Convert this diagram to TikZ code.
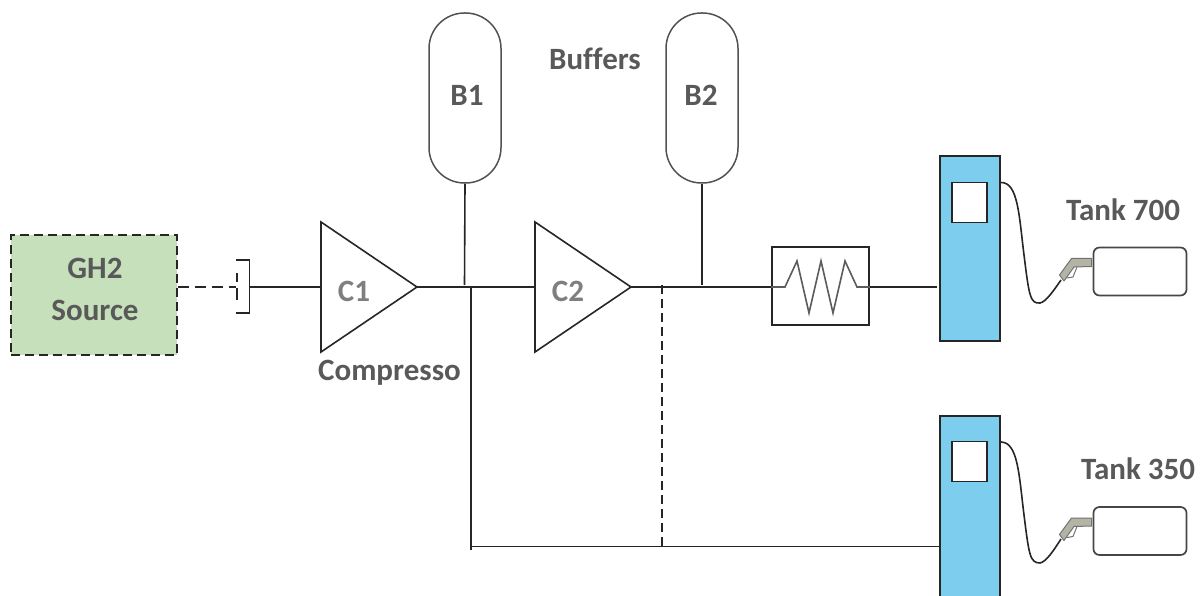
\documentclass[tikz,border=0pt]{standalone}
\usepackage{fontspec}
\setmainfont{Carlito}[Ligatures=NoCommon]
\definecolor{txt}{HTML}{595959}
\definecolor{txtl}{HTML}{7F7F7F}
\definecolor{ln}{HTML}{262626}
\definecolor{pumpc}{HTML}{7DCDEE}
\definecolor{srcc}{HTML}{C6E0BC}
\definecolor{nozc}{HTML}{B4B4A4}
\tikzset{
  lbl/.style={inner sep=0pt,font=\fontsize{31}{36}\selectfont\bfseries,text=txt},
  lbll/.style={lbl,text=txtl},
  pipe/.style={draw=ln,line width=1.6pt},
  dpipe/.style={pipe,dash pattern=on 11pt off 6pt},
  vdash/.style={pipe,dash pattern=on 9pt off 5pt},
  srcbox/.style={draw=ln,fill=srcc,line width=1.9pt,dash pattern=on 9pt off 5pt,minimum width=166pt,minimum height=120pt,inner sep=0pt},
  pumpbox/.style={draw=ln,fill=pumpc,line width=1.6pt,minimum width=60pt,inner sep=0pt},
  screen/.style={draw=ln,fill=white,line width=1.6pt,minimum width=35pt,minimum height=40pt,inner sep=0pt},
  tankbox/.style={draw=ln!85,fill=white,line width=1.7pt,rounded corners=6pt,minimum width=93pt,minimum height=48pt,inner sep=0pt},
  hxbox/.style={draw=ln,fill=white,line width=1.6pt,minimum width=97pt,minimum height=78pt,inner sep=0pt},
  buffer/.style={draw=ln!80,fill=white,line width=1.5pt,rounded corners=35.5pt,minimum width=72pt,minimum height=170pt,inner sep=0pt},
  comp/.style={draw=ln,fill=white,line width=1.6pt,line join=miter},
  hose/.style={draw=ln,line width=1.6pt},
  nozzle/.style={draw=ln!65,fill=nozc,line width=1pt,line join=round},
  guard/.style={draw=ln!65,line width=1pt}
}
\begin{document}
\begin{tikzpicture}[x=1pt,y=-1pt]
\useasboundingbox (0,0) rectangle (1203,596);
% coordinates
\coordinate (vl) at (236,287);
\coordinate (vr) at (249.5,287);
\coordinate (c1in) at (321,287);
\coordinate (c1out) at (417,287);
\coordinate (c2in) at (535,287);
\coordinate (c2out) at (631,287);
\coordinate (jb1) at (464.5,285);
\coordinate (jb2) at (702,285);
\coordinate (j1) at (471,287);
\coordinate (j2) at (662,285);
\coordinate (k1) at (471,546.5);
\coordinate (k2) at (662,546.5);
% nodes
\node[srcbox] (src) at (94,295) {};
\node[lbl] (gh2) at (95,268) {GH2};
\node[lbl] (srct) at (95,310) {Source};
\node[buffer] (b1) at (465,98) {};
\node[buffer] (b2) at (702,98) {};
\node[hxbox] (hx) at (820.5,286) {};
\node[pumpbox,minimum height=185pt] (p1) at (970,248.5) {};
\node[pumpbox,minimum height=200pt] (p2) at (970,516) {};
\node[screen] (s1) at (969.5,202.5) {};
\node[screen] (s2) at (969.5,461.5) {};
\node[tankbox] (t1) at (1140,271.5) {};
\node[tankbox] (t2) at (1140,531) {};
% source and valve
\draw[dpipe] (src.east|-vl) -- (vl);
\draw[pipe] (237,273) -- (237,282) (237,288) -- (237,300);
\draw[pipe,line join=miter] (236,260) -- (249.5,260) -- (249.5,313) -- (236,313);
\draw[pipe] (vr) -- (c1in);
% compressors
\draw[comp] (321,222) -- (c1out) -- (321,352) -- cycle;
\draw[comp] (535,222) -- (c2out) -- (535,352) -- cycle;
% pipes
\draw[pipe] (c1out) -- (c2in);
\draw[pipe] (c2out) -- (hx.west|-c2out);
\draw[pipe] (b1.south) -- (jb1);
\draw[pipe] (b2.south) -- (jb2);
\draw[pipe] (hx.east|-c2out) -- (937,287);
\draw[pipe] (j1) -- (471,550);
\draw[pipe] (k1) -- (p2.west|-k1);
\draw[vdash] (j2) -- (k2);
% heat exchanger coil
\draw[draw=ln!75,line width=1.6pt,line join=miter] (hx.west|-c2out) -- (785,287) -- (797,261) -- (809,313) -- (821,261) -- (833,313) -- (845,261) -- (857,287) -- (hx.east|-c2out);
% hoses
\draw[hose] (p1.east|-0,182.5) .. controls (1018,182) and (1019,215) .. (1024,255) .. controls (1029,295) and (1030,304) .. (1040,303) .. controls (1046,302) and (1054,290) .. (1061,280);
\draw[hose] (p2.east|-0,442) .. controls (1018,442) and (1019,475) .. (1024,515) .. controls (1029,555) and (1030,563) .. (1040,563) .. controls (1046,562) and (1054,550) .. (1061,539);
% nozzles
\draw[guard] (1077,267) -- (1073,277) -- (1067,278);
\draw[nozzle] (1059.5,275) -- (1071.5,258.5) -- (1091.5,258.5) -- (1091.5,266.5) -- (1074,267) -- (1064,281) -- cycle;
\draw[guard] (1077,526.5) -- (1073,536.5) -- (1067,537.5);
\draw[nozzle] (1059.5,534.5) -- (1071.5,518) -- (1091.5,518) -- (1091.5,526) -- (1074,526.5) -- (1064,540.5) -- cycle;
% labels
\node[lbll] (c1t) at (354,291.5) {C1};
\node[lbll] (c2t) at (568,291.5) {C2};
\node[lbl] (b1t) at (467,95) {B1};
\node[lbl] (b2t) at (701,95) {B2};
\node[lbl] (buf) at (595,59) {Buffers};
\node[lbl,anchor=west] (cmp) at (318,373) {Compresso};
\node[lbl] (t700) at (1123,210) {Tank 700};
\node[lbl] (t350) at (1138,469) {Tank 350};
\end{tikzpicture}
\end{document}
